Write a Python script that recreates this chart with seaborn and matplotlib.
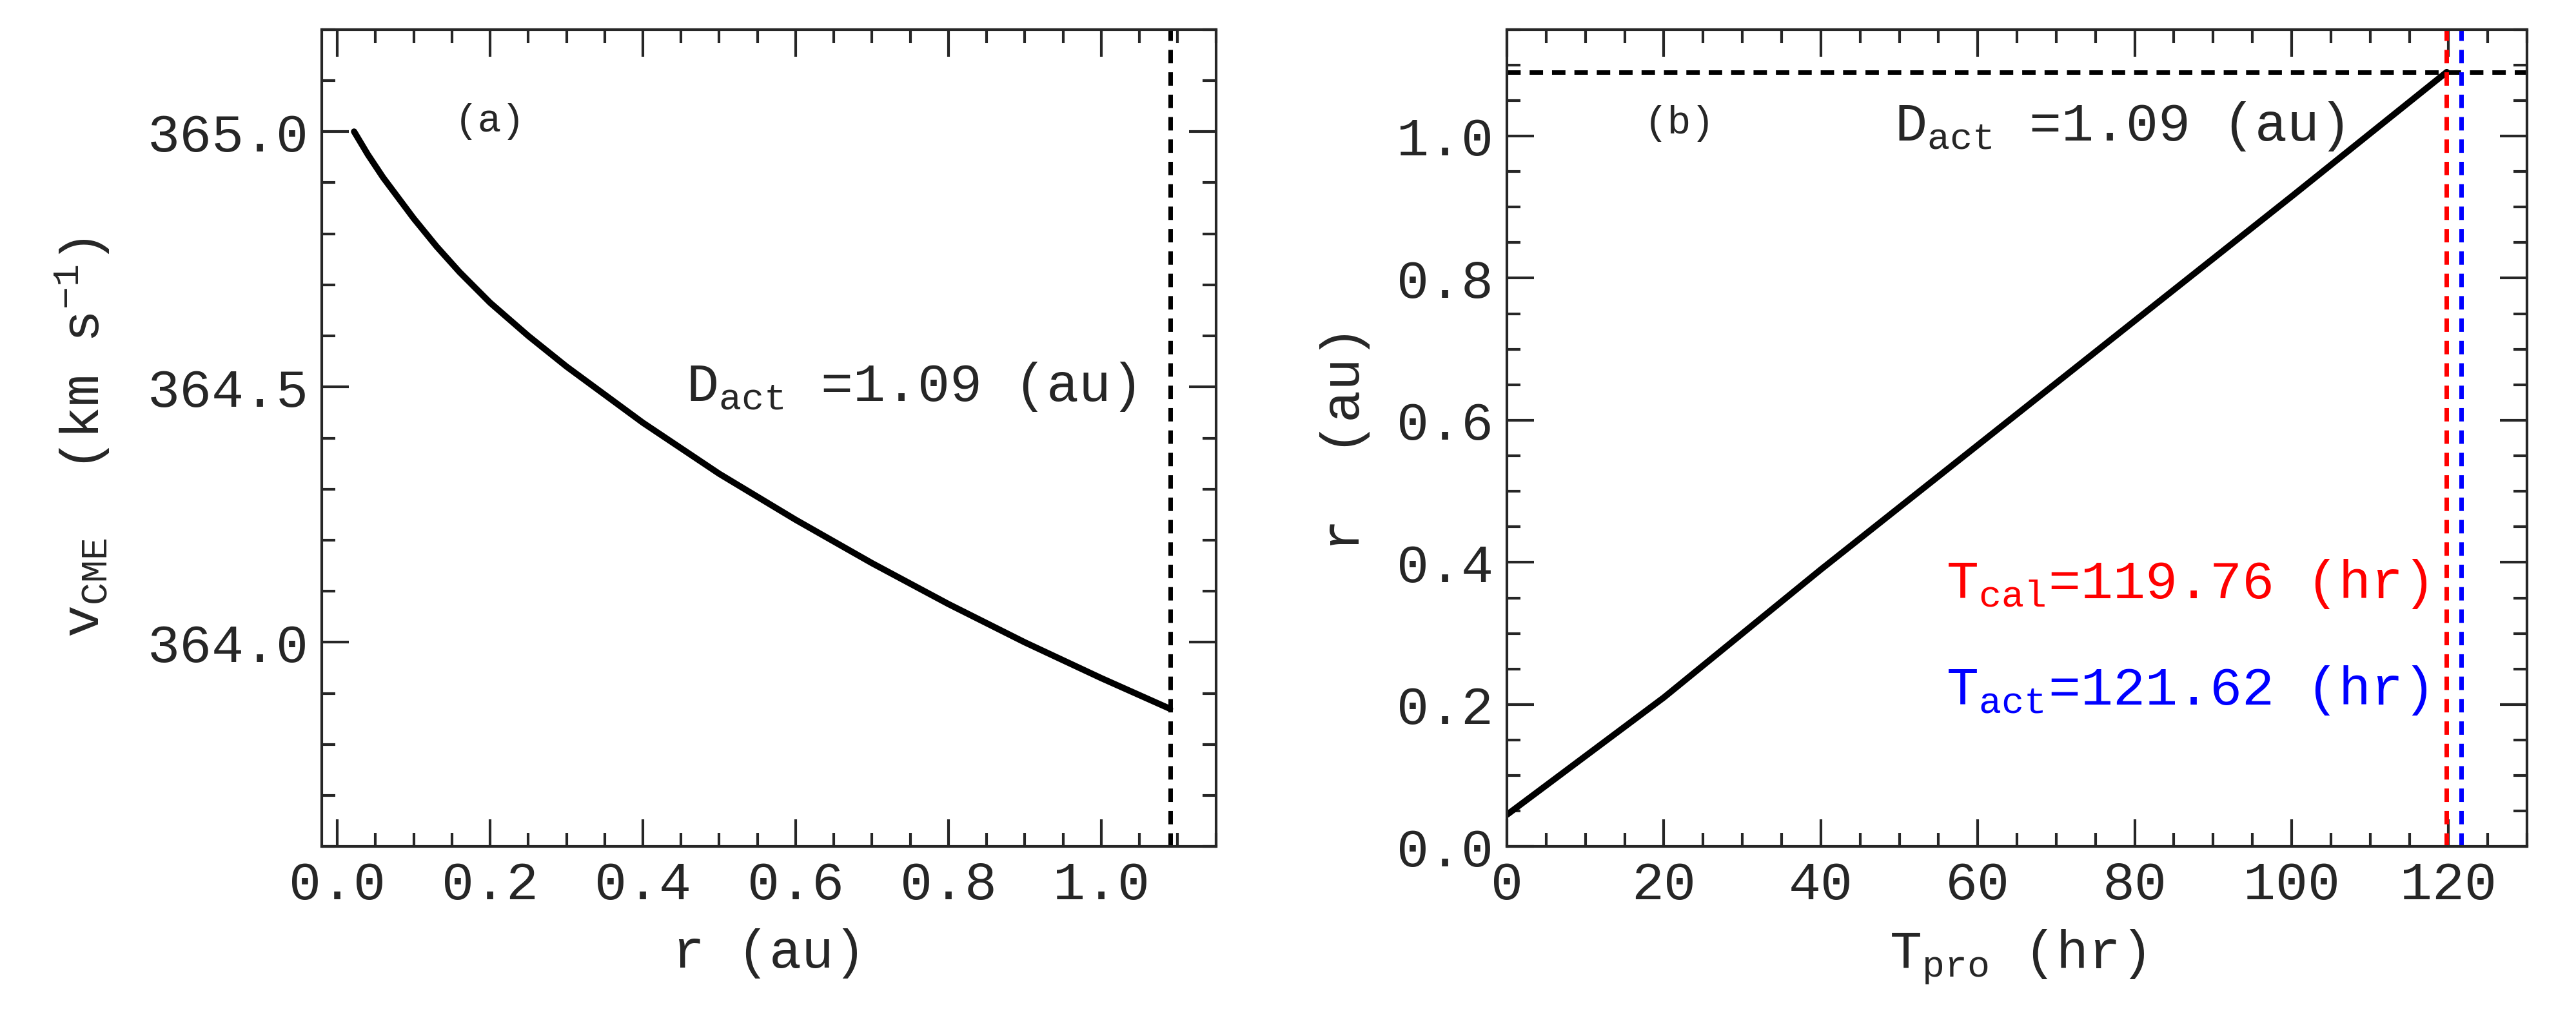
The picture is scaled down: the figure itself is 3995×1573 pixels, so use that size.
import numpy as np
import pandas as pd
import seaborn as sns
import matplotlib.pyplot as plt
from matplotlib.ticker import MultipleLocator

# panel (a): CME speed vs distance
r_a = [0.022, 0.04, 0.06, 0.08, 0.1, 0.13, 0.16, 0.2, 0.25, 0.3, 0.4, 0.5, 0.6, 0.7, 0.8, 0.9, 1.0, 1.09]
v_a = [365.00, 364.955, 364.91, 364.87, 364.83, 364.775, 364.725, 364.665, 364.60, 364.54, 364.43, 364.33, 364.24, 364.155, 364.075, 364.0, 363.93, 363.87]
# panel (b): distance vs propagation time
t_b = [0, 20, 40, 60, 80, 100, 119.76]
r_b = [0.045, 0.21, 0.39, 0.565, 0.74, 0.915, 1.09]
D_act = 1.09
T_cal = 119.76
T_act = 121.62

sns.set_style("ticks")
plt.rcParams['font.family'] = ['Liberation Mono', 'DejaVu Sans']
plt.rcParams['mathtext.fontset'] = 'custom'
plt.rcParams['mathtext.rm'] = 'Liberation Mono'
plt.rcParams['mathtext.it'] = 'Liberation Mono'

fig = plt.figure(figsize=(39.95, 15.73), dpi=100)
ax1 = fig.add_axes([0.125, 0.165, 0.347, 0.806])
ax2 = fig.add_axes([0.585, 0.165, 0.396, 0.806])

df_a = pd.DataFrame({"r": r_a, "v": v_a})
df_b = pd.DataFrame({"t": t_b, "r": r_b})

fs = 60
sns.lineplot(data=df_a, x="r", y="v", ax=ax1, color="black", lw=7)
ax1.axvline(D_act, color="black", ls=(0, (3, 2)), lw=5)
ax1.set_xlim(-0.02, 1.15)
ax1.set_ylim(363.6, 365.2)
ax1.xaxis.set_major_locator(MultipleLocator(0.2))
ax1.xaxis.set_minor_locator(MultipleLocator(0.05))
ax1.yaxis.set_major_locator(MultipleLocator(0.5))
ax1.yaxis.set_minor_locator(MultipleLocator(0.1))
ax1.xaxis.set_major_formatter(lambda x, p: f"{x:.1f}")
ax1.yaxis.set_major_formatter(lambda x, p: f"{x:.1f}")
ax1.set_xlabel("r (au)", fontsize=fs, labelpad=20)
ax1.set_ylabel(r"$\mathrm{v_{CME}}$  (km s$^{-1}$)", fontsize=fs, labelpad=40)
ax1.text(0.20, 365.02, "(a)", fontsize=44, ha="center", va="center")
ax1.text(0.75, 364.5, r"D$_{\mathrm{act}}$ =1.09 (au)", fontsize=fs, ha="center", va="center")

sns.lineplot(data=df_b, x="t", y="r", ax=ax2, color="black", lw=7)
ax2.axhline(D_act, color="black", ls=(0, (3, 2)), lw=5)
ax2.axvline(T_cal, color="red", ls=(0, (3, 2)), lw=5)
ax2.axvline(T_act, color="blue", ls=(0, (3, 2)), lw=5)
ax2.set_xlim(0, 130)
ax2.set_ylim(0, 1.15)
ax2.xaxis.set_major_locator(MultipleLocator(20))
ax2.xaxis.set_minor_locator(MultipleLocator(5))
ax2.yaxis.set_major_locator(MultipleLocator(0.2))
ax2.yaxis.set_minor_locator(MultipleLocator(0.05))
ax2.yaxis.set_major_formatter(lambda x, p: f"{x:.1f}")
ax2.set_xlabel(r"T$_{\mathrm{pro}}$ (hr)", fontsize=fs, labelpad=20)
ax2.set_ylabel("r  (au)", fontsize=fs, labelpad=30)
ax2.text(22, 1.018, "(b)", fontsize=44, ha="center", va="center")
ax2.text(78, 1.014, r"D$_{\mathrm{act}}$ =1.09 (au)", fontsize=fs, ha="center", va="center")
ax2.text(86.6, 0.37, r"T$_{\mathrm{cal}}$=119.76 (hr)", fontsize=fs, ha="center", va="center", color="red")
ax2.text(86.6, 0.22, r"T$_{\mathrm{act}}$=121.62 (hr)", fontsize=fs, ha="center", va="center", color="blue")

for ax in (ax1, ax2):
    for s in ax.spines.values():
        s.set_linewidth(3)
    ax.tick_params(which="both", direction="in", top=True, right=True, width=3, labelsize=fs, pad=15)
    ax.tick_params(which="major", length=30)
    ax.tick_params(which="minor", length=15)

fig.savefig("out.png", dpi=100)
